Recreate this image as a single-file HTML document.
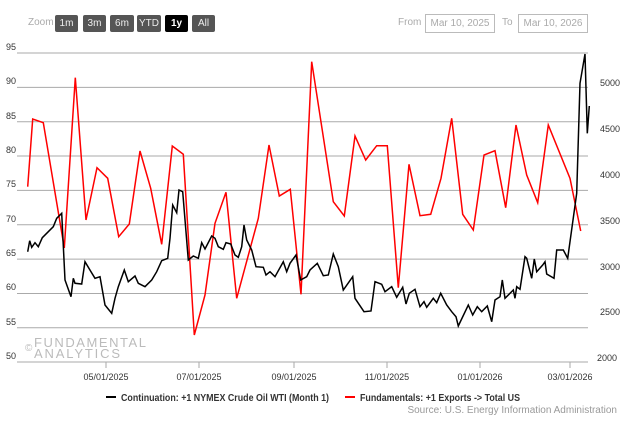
<!DOCTYPE html><html><head><style>body{margin:0;background:#fff;font-family:"Liberation Sans",sans-serif}
.b{position:absolute;top:15px;height:17px;background:#555;color:#eee;font-size:10px;line-height:17px;text-align:center;border-radius:2px}
.i{position:absolute;top:14px;width:68px;height:17px;border:1px solid #bbb;color:#aaa;font-size:10px;line-height:17px;text-align:center}
</style></head><body><div style="position:relative;width:630px;height:424px;overflow:hidden">
<span style="position:absolute;left:28px;top:17px;font-size:10px;color:#aaa">Zoom</span>
<div class="b" style="left:55px;width:23px">1m</div><div class="b" style="left:83px;width:23px">3m</div><div class="b" style="left:110px;width:24px">6m</div><div class="b" style="left:137px;width:24px">YTD</div><div class="b" style="left:165px;width:23px;background:#000;color:#fff;font-weight:bold">1y</div><div class="b" style="left:192px;width:23px">All</div>
<span style="position:absolute;left:398px;top:17px;font-size:10px;color:#aaa">From</span><div class="i" style="left:425px">Mar 10, 2025</div>
<span style="position:absolute;left:502px;top:17px;font-size:10px;color:#aaa">To</span><div class="i" style="left:518px">Mar 10, 2026</div>
<svg width="630" height="424" style="position:absolute;left:0;top:0" font-family="Liberation Sans,sans-serif">
<g stroke="#aaa" stroke-width="1"><line x1="17" x2="588" y1="53" y2="53"/><line x1="17" x2="588" y1="87.4" y2="87.4"/><line x1="17" x2="588" y1="121.7" y2="121.7"/><line x1="17" x2="588" y1="156" y2="156"/><line x1="17" x2="588" y1="190.4" y2="190.4"/><line x1="17" x2="588" y1="224.8" y2="224.8"/><line x1="17" x2="588" y1="259.1" y2="259.1"/><line x1="17" x2="588" y1="293.5" y2="293.5"/><line x1="17" x2="588" y1="327.8" y2="327.8"/><line x1="17" x2="588" y1="362" y2="362"/>
<line x1="106" x2="106" y1="362" y2="368"/><line x1="199" x2="199" y1="362" y2="368"/><line x1="294" x2="294" y1="362" y2="368"/><line x1="387" x2="387" y1="362" y2="368"/><line x1="480" x2="480" y1="362" y2="368"/><line x1="570" x2="570" y1="362" y2="368"/></g>
<g font-size="9" fill="#333"><text x="6" y="50">95</text><text x="6" y="84">90</text><text x="6" y="119">85</text><text x="6" y="153">80</text><text x="6" y="187">75</text><text x="6" y="222">70</text><text x="6" y="256">65</text><text x="6" y="290">60</text><text x="6" y="325">55</text><text x="6" y="359">50</text>
<text x="600" y="86">5000</text><text x="600" y="132">4500</text><text x="600" y="178">4000</text><text x="600" y="224">3500</text><text x="600" y="270">3000</text><text x="600" y="315">2500</text><text x="597" y="361">2000</text>
<g text-anchor="middle"><text x="106" y="380">05/01/2025</text><text x="199" y="380">07/01/2025</text><text x="294" y="380">09/01/2025</text><text x="387" y="380">11/01/2025</text><text x="480" y="380">01/01/2026</text><text x="570" y="380">03/01/2026</text></g></g>
<g fill="#bbb"><text x="34" y="347" font-size="13" textLength="112" lengthAdjust="spacing">FUNDAMENTAL</text><text x="34" y="358" font-size="13" textLength="86" lengthAdjust="spacing">ANALYTICS</text><text x="25" y="351" font-size="10">©</text></g>
<polyline fill="none" stroke="#f00" stroke-width="1.5" points="27.7,186.7 32.7,119 43.3,122.7 64.3,248 75.3,77.7 86,220 97,167.7 107.7,178.3 118.7,236.7 129.3,224 140,151 150.7,188.3 161.7,244.3 172.3,146 183.3,154.3 194.3,335 205,295 215,223.3 226,192.3 236.7,298.3 258.3,218.3 269,145 279.3,196 290.3,189.3 301,294.3 311.7,61.7 333.3,201.7 344.3,216 355,136 365.7,160 376.7,145.7 387.3,145.7 398.3,287.7 409,164.3 420,215.7 430.7,214.3 441,178.3 451.7,118.3 462.7,214.3 473.3,230 484,155 495,150.7 505.7,207.7 516,125 526.7,175 537.7,202.7 548.3,125 570,178.3 580.7,231"/>
<polyline fill="none" stroke="#000" stroke-width="1.5" points="27.7,251.7 29.7,240.7 31.7,247.3 35,242.7 38.3,246.7 42.3,237.7 48.3,231.7 53.3,226.7 56.7,218.3 61.7,213.3 65,280 71,296.7 73.3,278.3 75,283.3 81.7,284 85,261.7 91,271.7 95,278.3 100,276.7 105,305 111.7,313.3 115,298.3 118.3,286.7 124.3,270 128.3,281.7 135,276 138.3,283.3 145,286.7 151.7,280 156.7,271.7 161.7,260.7 167.7,258.3 170,238.3 172.7,205 176.7,212.7 179,190 182.7,191.7 188.3,260 193.3,256 198.3,258.3 201.7,242.7 205,249 211.7,236 215,238.3 218.3,246.7 223.3,249.3 226,242.7 230.7,244 235,255 238.3,257.3 241.7,246.7 244,225 246.7,240 251.7,250 256,266.7 263.3,267.3 266,275 270,271.7 275,276.7 283.3,261.7 286.7,271.7 290,263.3 296,255 300.7,280 306.7,276.7 310,270 317.3,263.3 323.3,275.7 328.3,275 333.3,254 338.3,266.7 343.3,290 352.7,276.7 355,298.3 364,311.7 371,311 375,281.7 381.7,284.3 385,291.7 391.7,286.7 396.7,297.3 402.7,287.3 406,304 409.3,293.3 415,289.3 420,306.7 424,301.7 426.7,307.3 433.3,298.3 436.7,302.7 440.7,293.3 446.7,305 451.7,311.7 456,316.7 458.3,326 468.3,305 472.7,315 477.3,306.7 481.7,311.7 487.3,306 491.7,321.7 495,300 500,296.7 502.3,280 505,298.3 513.3,290 515,298.3 516.7,286.7 520,289.3 525,256.7 526.7,258.3 531.7,278.3 534.3,259 536.7,271.7 542.7,265 545,261.7 546.7,274 554,278.3 556.7,250 563.3,250 567.7,258.3 576.7,193.3 580,83.3 585,54 587.3,133.3 589.3,106"/>
<line x1="106" x2="116" y1="397" y2="397" stroke="#000" stroke-width="2"/><text x="121" y="401" font-size="10.5" font-weight="bold" fill="#333" textLength="208" lengthAdjust="spacingAndGlyphs">Continuation: +1 NYMEX Crude Oil WTI (Month 1)</text>
<line x1="345" x2="355" y1="397" y2="397" stroke="#f00" stroke-width="2"/><text x="360" y="401" font-size="10.5" font-weight="bold" fill="#333" textLength="160" lengthAdjust="spacingAndGlyphs">Fundamentals: +1 Exports -&gt; Total US</text>
<text x="617" y="413" font-size="10" fill="#999" text-anchor="end">Source: U.S. Energy Information Administration</text>
</svg></div></body></html>
